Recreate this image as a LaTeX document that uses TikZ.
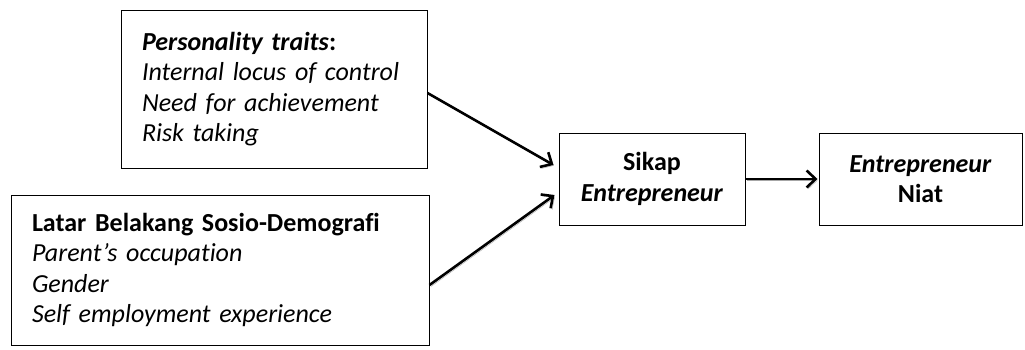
\documentclass[tikz,border=0pt]{standalone}
\usepackage{fontspec}
\setmainfont[Ligatures=NoCommon]{Carlito}
\usetikzlibrary{arrows.meta}

\begin{document}
\begin{tikzpicture}[x=1pt,y=1pt,
    box/.style={draw,line width=1pt,inner sep=0pt,align=left,
      font=\fontsize{26}{30.5}\selectfont},
    cbox/.style={box,align=center},
    arr/.style={-{Straight Barb[length=9pt,width=17pt]},line width=2.6pt,
      preaction={draw=black!35,transform canvas={shift={(1.5pt,-1.5pt)}}}}]
  \useasboundingbox (0,0) rectangle (1025,-349);

  % inputs
  \node[box,minimum width=306pt,minimum height=158pt,text width=264pt] (pers) at (274,-89)
    {\textbf{\textit{Personality traits}:}\\
     \textit{Internal locus of control}\\
     \textit{Need for achievement}\\
     \textit{Risk taking}};

  \node[box,minimum width=418pt,minimum height=150pt,text width=376pt] (latar) at (220,-270)
    {\textbf{Latar Belakang Sosio-Demografi}\\
     \textit{Parent’s occupation}\\
     \textit{Gender}\\
     \textit{Self employment experience}};

  % attitude and intention
  \node[cbox,minimum width=186pt,minimum height=92pt] (sikap) at (652,-179)
    {\textbf{Sikap}\\ \textbf{\textit{Entrepreneur}}};
  \node[cbox,minimum width=203pt,minimum height=92pt] (niat) at (920.5,-179)
    {\textbf{\textit{Entrepreneur}}\\ \textbf{Niat}};

  % arrows
  \draw[arr] ([yshift=-4pt]pers.east) -- ([xshift=-5pt,yshift=14pt]sikap.west);
  \draw[arr] ([yshift=-15pt]latar.east) -- ([xshift=-4pt,yshift=-16pt]sikap.west);
  \draw[arr] (sikap.east) -- ([xshift=-1pt]niat.west);
\end{tikzpicture}
\end{document}
